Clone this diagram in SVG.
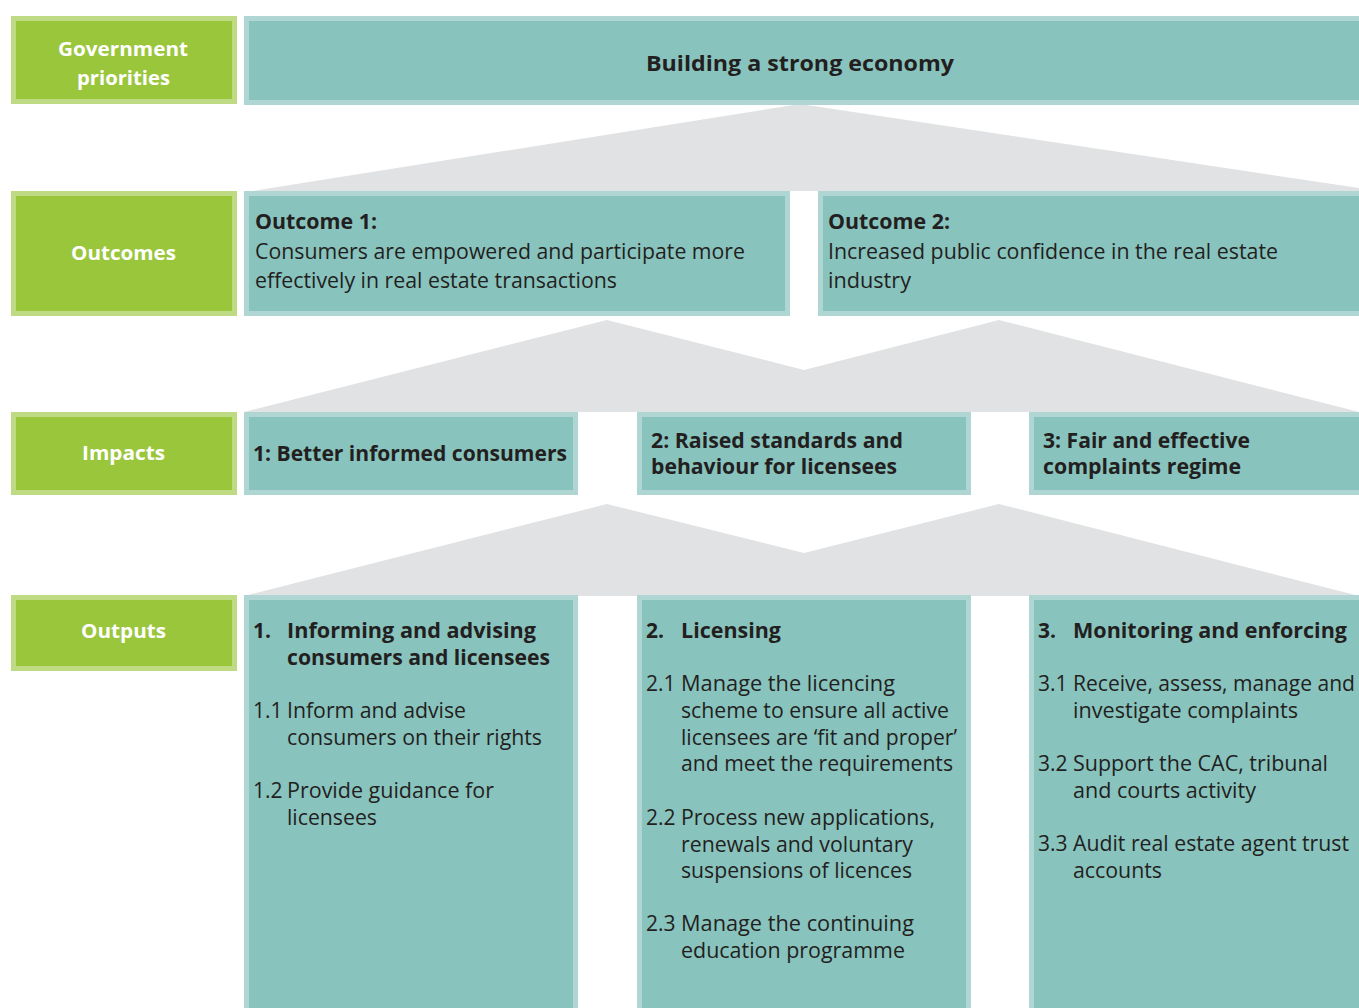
<svg xmlns="http://www.w3.org/2000/svg" width="1359" height="1008" viewBox="0 0 1359 1008">
<style>
.g{fill:#9ac63c;stroke:#bedb83;stroke-width:5}
.t{fill:#88c3be;stroke:#afd6d3;stroke-width:5}
.sh{fill:#e1e2e3}
text{font-family:"Open Sans","Noto Sans",sans-serif;font-size:21px;fill:#231f20}
.b{font-weight:700}
.w{fill:#ffffff;font-weight:700;font-size:20px}
</style>
<rect width="1359" height="1008" fill="#ffffff"/>
<g id="connectors">
<polygon class="sh" points="800,104 253,191 1359,191 1359,188"/>
<polygon class="sh" points="244,412 607,320 804,370 999,320 1359,412"/>
<polygon class="sh" points="244,596 607,504 804,553 999,504 1359,596"/>
</g>
<g id="label-gov"><rect class="g" x="13.5" y="18.5" width="221" height="83"/><text class="w" x="58" y="56" textLength="130" lengthAdjust="spacingAndGlyphs">Government</text><text class="w" x="77" y="85" textLength="93" lengthAdjust="spacingAndGlyphs">priorities</text></g>
<g id="label-outcomes"><rect class="g" x="13.5" y="193.5" width="221" height="120"/><text class="w" x="71" y="260" textLength="105" lengthAdjust="spacingAndGlyphs">Outcomes</text></g>
<g id="label-impacts"><rect class="g" x="13.5" y="414.5" width="221" height="78"/><text class="w" x="82" y="460" textLength="83" lengthAdjust="spacingAndGlyphs">Impacts</text></g>
<g id="label-outputs"><rect class="g" x="13.5" y="597.5" width="221" height="71"/><text class="w" x="81" y="638" textLength="85" lengthAdjust="spacingAndGlyphs">Outputs</text></g>

<g id="priority"><rect class="t" x="246.5" y="18.5" width="1120" height="84"/><text class="b" x="646" y="71" textLength="308" lengthAdjust="spacingAndGlyphs">Building a strong economy</text></g>

<g id="outcome1"><rect class="t" x="246.5" y="193.5" width="541" height="120"/>
<text class="b" x="255" y="229" textLength="122" lengthAdjust="spacingAndGlyphs">Outcome 1:</text>
<text x="255" y="259" textLength="490" lengthAdjust="spacingAndGlyphs">Consumers are empowered and participate more</text>
<text x="255" y="288" textLength="362" lengthAdjust="spacingAndGlyphs">effectively in real estate transactions</text></g>
<g id="outcome2"><rect class="t" x="820.5" y="193.5" width="546" height="120"/>
<text class="b" x="828" y="229" textLength="122" lengthAdjust="spacingAndGlyphs">Outcome 2:</text>
<text x="828" y="259" textLength="450" lengthAdjust="spacingAndGlyphs">Increased public confidence in the real estate</text>
<text x="828" y="288" textLength="83" lengthAdjust="spacingAndGlyphs">industry</text></g>

<g id="impact1"><rect class="t" x="246.5" y="414.5" width="329" height="78"/>
<text class="b" x="253" y="461" textLength="314" lengthAdjust="spacingAndGlyphs">1: Better informed consumers</text></g>
<g id="impact2"><rect class="t" x="639.5" y="414.5" width="329" height="78"/>
<text class="b" x="651" y="448" textLength="252" lengthAdjust="spacingAndGlyphs">2: Raised standards and</text>
<text class="b" x="651" y="474" textLength="246" lengthAdjust="spacingAndGlyphs">behaviour for licensees</text></g>
<g id="impact3"><rect class="t" x="1031.5" y="414.5" width="335" height="78"/>
<text class="b" x="1043" y="448" textLength="207" lengthAdjust="spacingAndGlyphs">3: Fair and effective</text>
<text class="b" x="1043" y="474" textLength="198" lengthAdjust="spacingAndGlyphs">complaints regime</text></g>

<g id="output1"><rect class="t" x="246.5" y="597.5" width="329" height="420"/>
<text class="b" x="253" y="638">1.</text>
<text class="b" x="287" y="638" textLength="249" lengthAdjust="spacingAndGlyphs">Informing and advising</text>
<text class="b" x="287" y="665" textLength="263" lengthAdjust="spacingAndGlyphs">consumers and licensees</text>
<text x="253" y="718">1.1</text>
<text x="287" y="718" textLength="179" lengthAdjust="spacingAndGlyphs">Inform and advise</text>
<text x="287" y="745" textLength="255" lengthAdjust="spacingAndGlyphs">consumers on their rights</text>
<text x="253" y="798">1.2</text>
<text x="287" y="798" textLength="207" lengthAdjust="spacingAndGlyphs">Provide guidance for</text>
<text x="287" y="825" textLength="90" lengthAdjust="spacingAndGlyphs">licensees</text></g>

<g id="output2"><rect class="t" x="639.5" y="597.5" width="329" height="420"/>
<text class="b" x="646" y="638">2.</text>
<text class="b" x="681" y="638" textLength="100" lengthAdjust="spacingAndGlyphs">Licensing</text>
<text x="646" y="691">2.1</text>
<text x="681" y="691" textLength="214" lengthAdjust="spacingAndGlyphs">Manage the licencing</text>
<text x="681" y="718" textLength="268" lengthAdjust="spacingAndGlyphs">scheme to ensure all active</text>
<text x="681" y="745" textLength="276" lengthAdjust="spacingAndGlyphs">licensees are ‘fit and proper’</text>
<text x="681" y="771" textLength="272" lengthAdjust="spacingAndGlyphs">and meet the requirements</text>
<text x="646" y="825">2.2</text>
<text x="681" y="825" textLength="254" lengthAdjust="spacingAndGlyphs">Process new applications,</text>
<text x="681" y="852" textLength="232" lengthAdjust="spacingAndGlyphs">renewals and voluntary</text>
<text x="681" y="878" textLength="231" lengthAdjust="spacingAndGlyphs">suspensions of licences</text>
<text x="646" y="931">2.3</text>
<text x="681" y="931" textLength="233" lengthAdjust="spacingAndGlyphs">Manage the continuing</text>
<text x="681" y="958" textLength="224" lengthAdjust="spacingAndGlyphs">education programme</text></g>

<g id="output3"><rect class="t" x="1031.5" y="597.5" width="335" height="420"/>
<text class="b" x="1038" y="638">3.</text>
<text class="b" x="1073" y="638" textLength="274" lengthAdjust="spacingAndGlyphs">Monitoring and enforcing</text>
<text x="1038" y="691">3.1</text>
<text x="1073" y="691" textLength="282" lengthAdjust="spacingAndGlyphs">Receive, assess, manage and</text>
<text x="1073" y="718" textLength="225" lengthAdjust="spacingAndGlyphs">investigate complaints</text>
<text x="1038" y="771">3.2</text>
<text x="1073" y="771" textLength="255" lengthAdjust="spacingAndGlyphs">Support the CAC, tribunal</text>
<text x="1073" y="798" textLength="183" lengthAdjust="spacingAndGlyphs">and courts activity</text>
<text x="1038" y="851">3.3</text>
<text x="1073" y="851" textLength="276" lengthAdjust="spacingAndGlyphs">Audit real estate agent trust</text>
<text x="1073" y="878" textLength="89" lengthAdjust="spacingAndGlyphs">accounts</text></g>
</svg>
